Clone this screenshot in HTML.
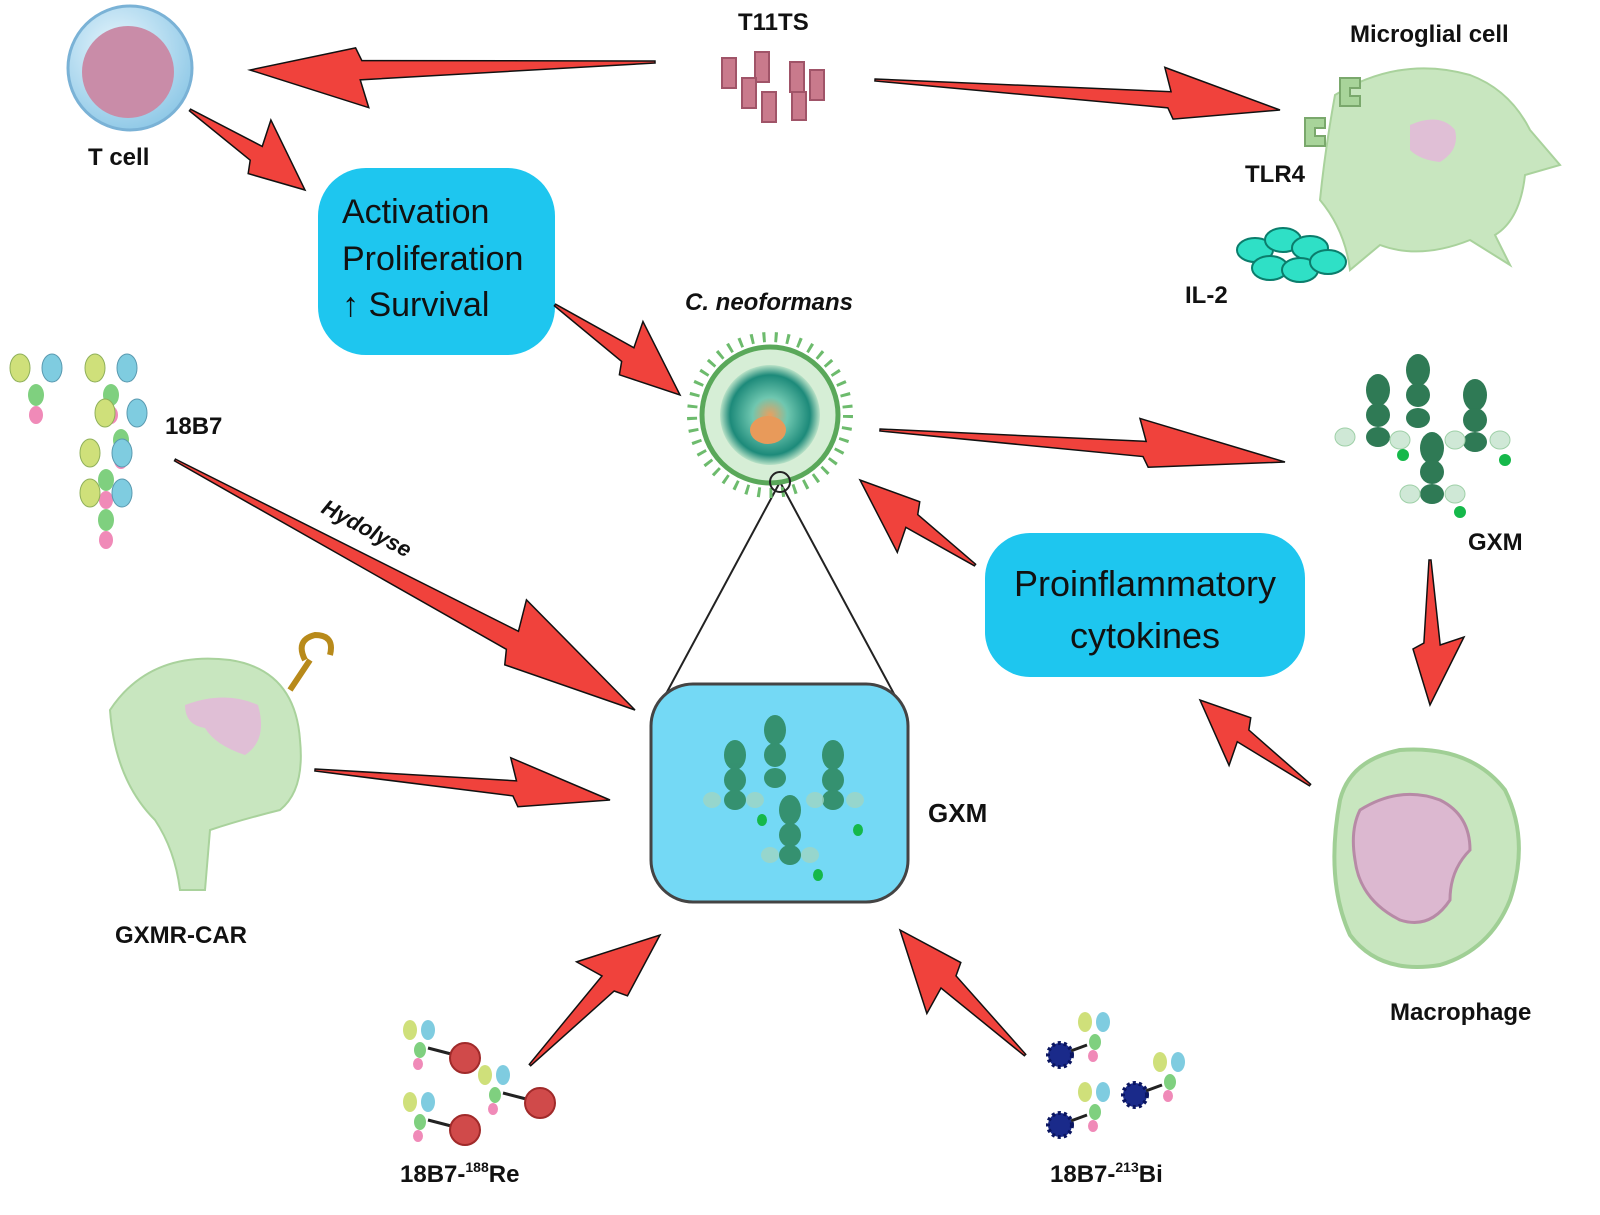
<!DOCTYPE html>
<html><head><meta charset="utf-8">
<style>
html,body{margin:0;padding:0;background:#fff;}
svg{display:block}
text{font-family:"Liberation Sans",Arial,sans-serif;fill:#111;}
</style></head>
<body>
<svg id="s" width="1600" height="1215" viewBox="0 0 1600 1215" xmlns="http://www.w3.org/2000/svg">
<defs>
<radialGradient id="tc" cx="0.4" cy="0.35" r="0.7"><stop offset="0" stop-color="#e8f6fd"/><stop offset="1" stop-color="#8cc7e6"/></radialGradient>
<radialGradient id="cn" cx="0.5" cy="0.5" r="0.5"><stop offset="0" stop-color="#e8a060"/><stop offset="0.35" stop-color="#6fc7b0"/><stop offset="0.8" stop-color="#1d8a7a"/><stop offset="1" stop-color="#b9e2c7"/></radialGradient>
</defs>

<rect x="318" y="168" width="237" height="187" rx="48" fill="#1ec6ef"/>
<text x="342" y="223" font-size="34">Activation</text>
<text x="342" y="270" font-size="34">Proliferation</text>
<text x="342" y="316" font-size="34">↑ Survival</text>

<rect x="985" y="533" width="320" height="144" rx="45" fill="#1ec6ef"/>
<text x="1145" y="596" font-size="36" text-anchor="middle">Proinflammatory</text>
<text x="1145" y="648" font-size="36" text-anchor="middle">cytokines</text>

<line x1="780" y1="482" x2="660" y2="705" stroke="#222" stroke-width="2"/>
<line x1="780" y1="482" x2="900" y2="705" stroke="#222" stroke-width="2"/>

<rect x="651" y="684" width="257" height="218" rx="42" fill="#74d9f5" stroke="#444" stroke-width="3"/>
<g fill="#2f8a62" opacity="0.9">
<ellipse cx="735" cy="755" rx="11" ry="15"/><ellipse cx="735" cy="780" rx="11" ry="12"/><ellipse cx="735" cy="800" rx="11" ry="10"/>
<ellipse cx="775" cy="730" rx="11" ry="15"/><ellipse cx="775" cy="755" rx="11" ry="12"/><ellipse cx="775" cy="778" rx="11" ry="10"/>
<ellipse cx="833" cy="755" rx="11" ry="15"/><ellipse cx="833" cy="780" rx="11" ry="12"/><ellipse cx="833" cy="800" rx="11" ry="10"/>
<ellipse cx="790" cy="810" rx="11" ry="15"/><ellipse cx="790" cy="835" rx="11" ry="12"/><ellipse cx="790" cy="855" rx="11" ry="10"/>
</g>
<g fill="#9fd6c4" opacity="0.8">
<ellipse cx="712" cy="800" rx="9" ry="8"/><ellipse cx="755" cy="800" rx="9" ry="8"/><ellipse cx="815" cy="800" rx="9" ry="8"/><ellipse cx="855" cy="800" rx="9" ry="8"/>
<ellipse cx="770" cy="855" rx="9" ry="8"/><ellipse cx="810" cy="855" rx="9" ry="8"/>
</g>
<g fill="#15b84a"><ellipse cx="762" cy="820" rx="5" ry="6"/><ellipse cx="858" cy="830" rx="5" ry="6"/><ellipse cx="818" cy="875" rx="5" ry="6"/></g>
<text x="928" y="822" font-size="26" font-weight="bold">GXM</text>

<g>
<circle cx="770" cy="415" r="78" fill="none" stroke="#6dbb6d" stroke-width="10" stroke-dasharray="3 9"/>
<circle cx="770" cy="415" r="68" fill="#d6eed6" stroke="#5aa85a" stroke-width="5"/>
<circle cx="770" cy="415" r="50" fill="url(#cn)"/>
<ellipse cx="768" cy="430" rx="18" ry="14" fill="#e89a5a"/>
<circle cx="780" cy="482" r="10" fill="none" stroke="#222" stroke-width="2"/>
</g>
<text x="685" y="310" font-size="24" font-style="italic" font-weight="bold">C. neoformans</text>

<circle cx="130" cy="68" r="62" fill="url(#tc)" stroke="#7ab2d6" stroke-width="3"/>
<circle cx="128" cy="72" r="46" fill="#c98ca8"/>
<text x="88" y="165" font-size="24" font-weight="bold">T cell</text>

<text x="738" y="30" font-size="24" font-weight="bold">T11TS</text>
<g fill="#c97a8c" stroke="#a05468" stroke-width="2">
<rect x="722" y="58" width="14" height="30"/><rect x="755" y="52" width="14" height="30"/><rect x="790" y="62" width="14" height="30"/><rect x="810" y="70" width="14" height="30"/>
<rect x="742" y="78" width="14" height="30"/><rect x="762" y="92" width="14" height="30"/><rect x="792" y="92" width="14" height="28"/>
</g>

<text x="1350" y="42" font-size="24" font-weight="bold">Microglial cell</text>
<path d="M1335,95 Q1400,55 1470,75 Q1510,90 1530,130 L1560,165 L1525,175 Q1520,220 1495,235 L1510,265 L1470,240 Q1420,260 1380,245 L1350,270 Q1345,230 1320,200 Q1325,150 1335,95Z" fill="#c8e6bf" stroke="#a9d29c" stroke-width="2"/>
<path d="M1410,125 Q1440,112 1455,130 Q1460,150 1440,162 Q1420,160 1410,150Z" fill="#e0bfd6"/>
<path d="M1340,78 h20 v10 h-10 v8 h10 v10 h-20z" fill="#a8d49a" stroke="#7aa86c" stroke-width="2"/>
<path d="M1305,118 h20 v10 h-10 v8 h10 v10 h-20z" fill="#a8d49a" stroke="#7aa86c" stroke-width="2"/>
<text x="1245" y="182" font-size="24" font-weight="bold">TLR4</text>
<g fill="#2fe0c6" stroke="#0b7d6c" stroke-width="2">
<ellipse cx="1255" cy="250" rx="18" ry="12"/><ellipse cx="1283" cy="240" rx="18" ry="12"/><ellipse cx="1310" cy="248" rx="18" ry="12"/>
<ellipse cx="1270" cy="268" rx="18" ry="12"/><ellipse cx="1300" cy="270" rx="18" ry="12"/><ellipse cx="1328" cy="262" rx="18" ry="12"/>
</g>
<text x="1185" y="303" font-size="24" font-weight="bold">IL-2</text>

<g id="ab">
<ellipse cx="20" cy="368" rx="10" ry="14" fill="#cfe07a" stroke="#8fb05a"/><ellipse cx="52" cy="368" rx="10" ry="14" fill="#7fcce0" stroke="#5a9ab0"/>
<ellipse cx="36" cy="395" rx="8" ry="11" fill="#7fd07f"/><ellipse cx="36" cy="415" rx="7" ry="9" fill="#f08ab8"/>
</g>
<use href="#ab" x="75"/><use href="#ab" x="85" y="45"/><use href="#ab" x="70" y="85"/><use href="#ab" x="70" y="125"/>
<text x="165" y="434" font-size="24" font-weight="bold">18B7</text>
<text x="0" y="0" font-size="22" font-weight="bold" font-style="italic" transform="translate(320,512) rotate(28)">Hydolyse</text>

<path d="M110,710 Q150,650 230,660 Q295,670 300,740 Q305,790 280,810 Q240,820 210,830 L205,890 L180,890 Q175,850 155,820 Q115,780 110,710Z" fill="#c8e6bf" stroke="#a9d29c" stroke-width="2"/>
<path d="M185,705 Q225,690 258,705 Q268,740 245,755 Q215,745 205,728 Q185,725 185,705Z" fill="#e0bfd6"/>
<path d="M290,690 L310,660 M305,660 q-10,-20 10,-25 q20,0 15,20" stroke="#b88a1a" stroke-width="6" fill="none"/>
<text x="115" y="943" font-size="24" font-weight="bold">GXMR-CAR</text>

<g fill="#2f7a55">
<ellipse cx="1378" cy="390" rx="12" ry="16"/><ellipse cx="1378" cy="415" rx="12" ry="12"/><ellipse cx="1378" cy="437" rx="12" ry="10"/>
<ellipse cx="1418" cy="370" rx="12" ry="16"/><ellipse cx="1418" cy="395" rx="12" ry="12"/><ellipse cx="1418" cy="418" rx="12" ry="10"/>
<ellipse cx="1475" cy="395" rx="12" ry="16"/><ellipse cx="1475" cy="420" rx="12" ry="12"/><ellipse cx="1475" cy="442" rx="12" ry="10"/>
<ellipse cx="1432" cy="448" rx="12" ry="16"/><ellipse cx="1432" cy="472" rx="12" ry="12"/><ellipse cx="1432" cy="494" rx="12" ry="10"/>
</g>
<g fill="#cfe8d6" stroke="#9fd0a8"><ellipse cx="1345" cy="437" rx="10" ry="9"/><ellipse cx="1400" cy="440" rx="10" ry="9"/><ellipse cx="1455" cy="440" rx="10" ry="9"/><ellipse cx="1500" cy="440" rx="10" ry="9"/><ellipse cx="1410" cy="494" rx="10" ry="9"/><ellipse cx="1455" cy="494" rx="10" ry="9"/></g>
<g fill="#15b84a"><circle cx="1403" cy="455" r="6"/><circle cx="1505" cy="460" r="6"/><circle cx="1460" cy="512" r="6"/></g>
<text x="1468" y="550" font-size="24" font-weight="bold">GXM</text>

<path d="M1340,800 Q1350,760 1400,750 Q1470,745 1505,790 Q1530,840 1510,900 Q1490,950 1440,965 Q1380,975 1350,935 Q1325,880 1340,800Z" fill="#c8e6bf" stroke="#a0cf95" stroke-width="4"/>
<path d="M1360,810 Q1400,785 1440,800 Q1470,815 1470,850 Q1450,870 1450,900 Q1430,930 1400,920 Q1360,900 1355,860 Q1350,830 1360,810Z" fill="#dcb8d0" stroke="#b78aa6" stroke-width="3"/>
<text x="1390" y="1020" font-size="24" font-weight="bold">Macrophage</text>

<g id="re">
<ellipse cx="410" cy="1030" rx="7" ry="10" fill="#cfe07a"/><ellipse cx="428" cy="1030" rx="7" ry="10" fill="#7fcce0"/>
<ellipse cx="420" cy="1050" rx="6" ry="8" fill="#7fd07f"/><ellipse cx="418" cy="1064" rx="5" ry="6" fill="#f08ab8"/>
<line x1="428" y1="1048" x2="455" y2="1055" stroke="#222" stroke-width="3"/>
<circle cx="465" cy="1058" r="15" fill="#d04a4a" stroke="#a02a2a" stroke-width="2"/>
</g>
<use href="#re" y="72"/><use href="#re" x="75" y="45"/>
<text x="400" y="1182" font-size="24" font-weight="bold">18B7-<tspan font-size="14" dy="-10">188</tspan><tspan dy="10">Re</tspan></text>

<g id="bi">
<ellipse cx="1085" cy="1022" rx="7" ry="10" fill="#cfe07a"/><ellipse cx="1103" cy="1022" rx="7" ry="10" fill="#7fcce0"/>
<ellipse cx="1095" cy="1042" rx="6" ry="8" fill="#7fd07f"/><ellipse cx="1093" cy="1056" rx="5" ry="6" fill="#f08ab8"/>
<line x1="1087" y1="1045" x2="1068" y2="1052" stroke="#222" stroke-width="3"/>
<circle cx="1060" cy="1055" r="12" fill="#1a2a8a" stroke="#0a1560" stroke-width="4" stroke-dasharray="3 3"/>
</g>
<use href="#bi" y="70"/><use href="#bi" x="75" y="40"/>
<text x="1050" y="1182" font-size="24" font-weight="bold">18B7-<tspan font-size="14" dy="-10">213</tspan><tspan dy="10">Bi</tspan></text>

<g id="arrows"></g>
</svg>
<script>
var A=[
[655,62,250,70,110,40],
[875,80,1280,110,110,34],
[190,110,305,190,60,38],
[555,305,680,395,65,38],
[175,460,635,710,140,45],
[315,770,610,800,95,32],
[880,430,1285,462,140,32],
[975,565,860,480,65,36],
[1430,560,1430,705,60,34],
[1310,785,1200,700,55,34],
[530,1065,660,935,70,40],
[1025,1055,900,930,70,40]];
var g=document.getElementById('arrows'),h='';
A.forEach(function(a){
 var dx=a[2]-a[0],dy=a[3]-a[1],L=Math.hypot(dx,dy),ang=Math.atan2(dy,dx)*180/Math.PI,H=a[4],W=a[5],s=W*0.3;
 var p=[[0,-1],[L-H,-s],[L-H-8,-W],[L,0],[L-H+4,W*0.5],[L-H-2,s*0.6],[0,1]];
 h+='<polygon transform="translate('+a[0]+','+a[1]+') rotate('+ang+')" points="'+p.map(function(q){return q.join(',')}).join(' ')+'" fill="#f0423c" stroke="#111" stroke-width="1.5"/>';
});
g.innerHTML=h;
</script>
</body></html>
